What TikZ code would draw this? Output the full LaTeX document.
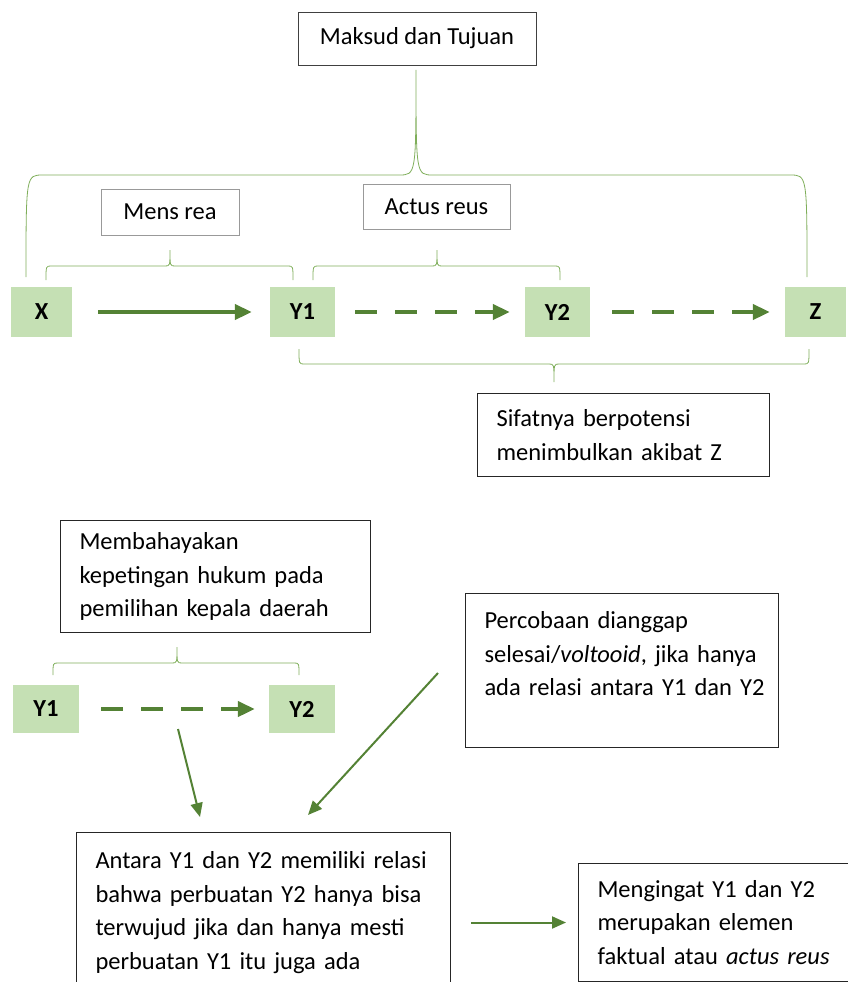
\documentclass[tikz,border=0pt]{standalone}
\usepackage{fontspec}
\setmainfont{Carlito}
\usetikzlibrary{arrows.meta}
\definecolor{boxgreen}{HTML}{C5E0B4}
\definecolor{arrgreen}{HTML}{548235}
\definecolor{brgreen}{HTML}{7FAE5A}

% x1, x2, tip x, line y, tip y, end y, radius
\newcommand{\hbrace}[7]{%
  \draw[br] (#1,#6) .. controls (#1,#4) .. ({#1+#7},#4) -- ({#3-#7},#4)
    .. controls (#3,#4) .. (#3,#5) .. controls (#3,#4) .. ({#3+#7},#4)
    -- ({#2-#7},#4) .. controls (#2,#4) .. (#2,#6);}

\begin{document}
\begin{tikzpicture}[x=1pt, y=-1pt,
    every node/.style={font=\fontsize{24.5}{33.5}\selectfont},
    g/.style={fill=boxgreen, minimum height=50pt, inner sep=0pt, font=\fontsize{24.5}{33.5}\selectfont\bfseries},
    t/.style={draw=black!75, line width=0.8pt, inner sep=0pt},
    l/.style={draw=black!85, line width=1pt, anchor=north west, align=left, inner xsep=19pt, inner ysep=0pt},
    br/.style={brgreen, line width=0.8pt},
    bigarr/.style={-{Triangle[length=17pt, width=15pt]}, line width=4.7pt, arrgreen},
    dasharr/.style={bigarr, dash pattern=on 22pt off 18pt},
    thinarr/.style={-{Triangle[length=14pt, width=12pt]}, line width=2pt, arrgreen}]
        \useasboundingbox (0,0) rectangle (847,982);

        % top part
        \node[t, minimum width=238pt, minimum height=53pt] (maksud) at (417,38.5) {Maksud dan Tujuan};
        \node[t, draw=black!40, minimum width=138pt, minimum height=46pt] (mens) at (170,212) {Mens rea};
        \node[t, draw=black!40, minimum width=147pt, minimum height=45pt] (actus) at (436.5,207) {Actus reus};

        \node[g, minimum width=61pt] (x) at (41.5,312) {X};
        \node[g, minimum width=65pt] (ya) at (302.5,312) {Y1};
        \node[g, minimum width=65pt] (yb) at (557.5,312) {Y2};
        \node[g, minimum width=61pt] (z) at (815.5,312) {Z};

        \draw[bigarr, shorten <=26pt, shorten >=18pt] (x) -- (ya);
        \draw[dasharr, shorten <=20pt, shorten >=15pt] (ya) -- (yb);
        \draw[dasharr, shorten <=22pt, shorten >=15pt] (yb) -- (z);

        \hbrace{26}{807}{416}{175}{70}{277}{17}
        \hbrace{46}{293}{170}{266}{250}{280}{5}
        \hbrace{313}{560}{437}{266}{250}{280}{5}
        \hbrace{299}{809}{554}{364}{382}{349}{5}

        \node[l, text width=254pt, minimum height=83pt] (sifat) at (477,393) {Sifatnya berpotensi\\menimbulkan akibat Z};

        % bottom part
        \node[l, text width=272pt, minimum height=112pt] (bahaya) at (60,520) {Membahayakan\\kepetingan hukum pada\\pemilihan kepala daerah};
        \hbrace{53}{299}{177}{663}{647}{675}{5}

        \node[g, minimum width=66pt, minimum height=48pt] (lya) at (46,709) {Y1};
        \node[g, minimum width=66pt, minimum height=48pt] (lyb) at (302,709) {Y2};
        \draw[dasharr, shorten <=22pt, shorten >=14pt] (lya) -- (lyb);

        \node[l, text width=275pt, minimum height=154pt] (coba) at (465,593) {Percobaan dianggap\\\mbox{selesai/\emph{voltooid}, jika hanya}\\\mbox{ada relasi antara Y1 dan Y2}\\\mbox{}};
        \node[l, text width=336pt, minimum height=160pt] (antara) at (76,832) {Antara Y1 dan Y2 memiliki relasi\\bahwa perbuatan Y2 hanya bisa\\terwujud jika dan hanya mesti\\perbuatan Y1 itu juga ada};
        \node[l, text width=236pt, minimum height=118pt] (ingat) at (578,863) {Mengingat Y1 dan Y2\\merupakan elemen\\faktual atau \emph{actus reus}};

        \coordinate (s1) at (178,729);
        \coordinate (e1) at (200,817);
        \coordinate (s2) at (438,673);
        \coordinate (e2) at (308,815);
        \draw[thinarr] (s1) -- (e1);
        \draw[thinarr] (s2) -- (e2);
        \draw[thinarr, shorten <=20pt, shorten >=12pt] (antara.east |- ingat.west) -- (ingat.west);
\end{tikzpicture}
\end{document}
